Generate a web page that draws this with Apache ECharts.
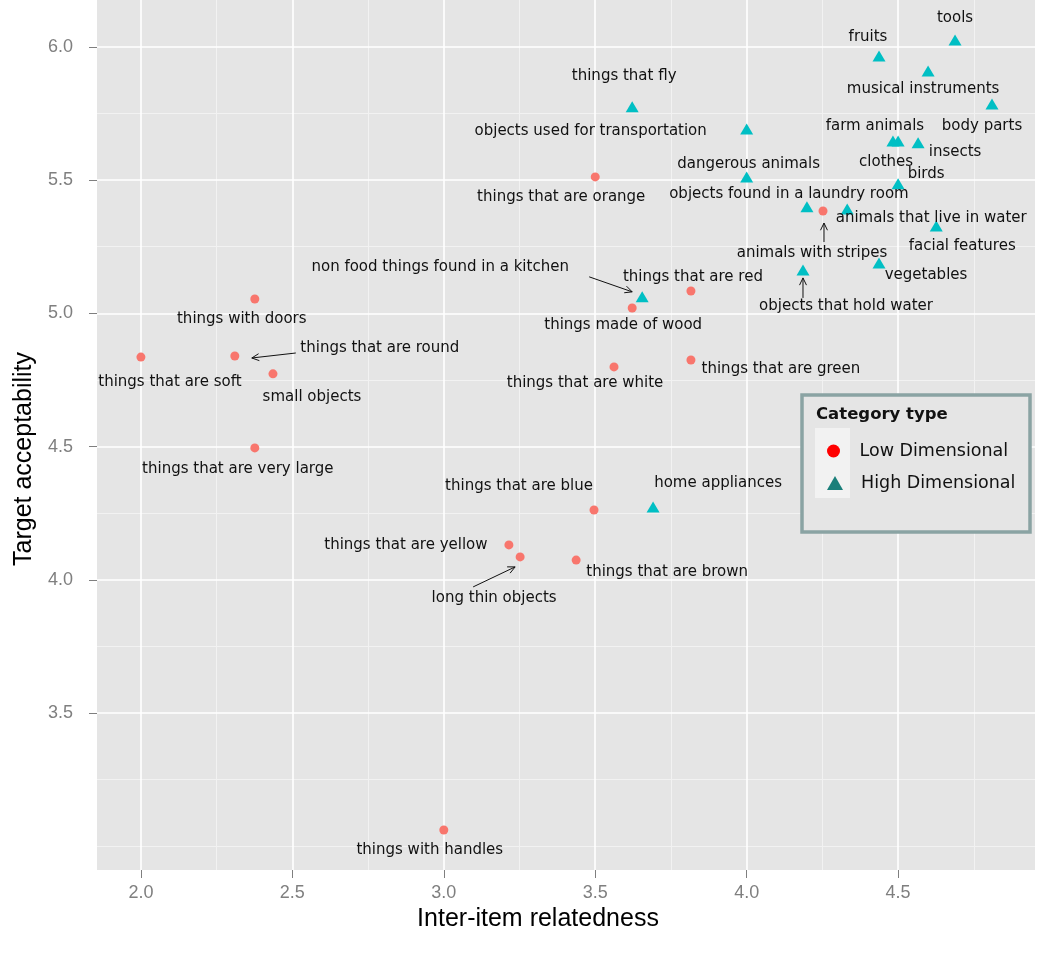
<!DOCTYPE html>
<html>
<head>
<meta charset="utf-8">
<script src="https://cdn.jsdelivr.net/npm/echarts@6/dist/echarts.min.js"></script>
<style>
html,body{margin:0;padding:0;background:#fff;}
#chart{width:1050px;height:953px;}
</style>
</head>
<body>
<div id="chart"></div>
<script>
// ---- data ----
const lowNames = ["things that are orange","things that are red","things made of wood","things that are white","things that are green","things with doors","things that are soft","things that are round","small objects","things that are very large","things that are blue","things that are yellow","long thin objects","things that are brown","things with handles","animals with stripes"];
const lowX = [3.50, 3.816, 3.622, 3.562, 3.816, 2.376, 2.00, 2.310, 2.436, 2.376, 3.496, 3.215, 3.252, 3.437, 3.00, 4.252];
const lowY = [5.512, 5.084, 5.020, 4.799, 4.825, 5.054, 4.836, 4.840, 4.773, 4.495, 4.262, 4.131, 4.086, 4.074, 3.061, 5.384];

const highNames = ["tools","fruits","musical instruments","body parts","things that fly","objects used for transportation","farm animals","clothes","insects","dangerous animals","birds","objects found in a laundry room","animals that live in water","facial features","vegetables","objects that hold water","non food things found in a kitchen","home appliances"];
const highX = [4.688, 4.437, 4.599, 4.810, 3.622, 4.00, 4.483, 4.500, 4.566, 4.00, 4.500, 4.199, 4.332, 4.626, 4.437, 4.186, 3.655, 3.691];
const highY = [6.026, 5.966, 5.910, 5.786, 5.775, 5.692, 5.647, 5.647, 5.640, 5.512, 5.486, 5.400, 5.392, 5.328, 5.189, 5.163, 5.062, 4.273];

const xTicks = [2.0, 2.5, 3.0, 3.5, 4.0, 4.5];
const yTicks = [3.5, 4.0, 4.5, 5.0, 5.5, 6.0];
const xMinor = [2.25, 2.75, 3.25, 3.75, 4.25, 4.75];
const yMinor = [3.0, 3.25, 3.75, 4.25, 4.75, 5.25, 5.75];

// ---- label layout (pixel offsets of label centre from its point) ----
const labelOffsets = {
  "tools":[0,-22], "fruits":[-11,-19], "musical instruments":[-5,18], "body parts":[-10,22],
  "things that fly":[-8,-31], "objects used for transportation":[-156,2], "farm animals":[-18,-15],
  "clothes":[-12,21], "insects":[37,9], "dangerous animals":[2,-13], "birds":[28,-10],
  "objects found in a laundry room":[-18,-13], "animals that live in water":[84,9],
  "facial features":[26,20], "vegetables":[47,12], "objects that hold water":[43,36],
  "non food things found in a kitchen":[-202,-30], "home appliances":[65,-24],
  "things that are orange":[-34,20], "things that are red":[2,-14], "things made of wood":[-9,17],
  "things that are white":[-29,16], "things that are green":[90,9], "things with doors":[-13,20],
  "things that are soft":[29,25], "things that are round":[145,-8], "small objects":[39,23],
  "things that are very large":[-17,21], "things that are blue":[-75,-24],
  "things that are yellow":[-103,0], "long thin objects":[-26,41], "things that are brown":[91,12],
  "things with handles":[-14,20], "animals with stripes":[-11,42]
};
// arrows: [series, name, start offset, end offset] in pixels relative to point
const arrows = [
  [1, "non food things found in a kitchen", [-53,-20], [-10,-5]],
  [0, "things that are round", [61,-3], [17,2]],
  [0, "long thin objects", [-47,30], [-5,10]],
  [0, "animals with stripes", [1,31], [1,12]],
  [1, "objects that hold water", [0,28], [0,8]]
];

const labelFont = {fontFamily:'DejaVu Sans', fontSize:15, color:'#111'};

function buildData(names, xs, ys){
  return names.map((n,i)=>({
    name:n, value:[xs[i], ys[i]],
    label:{show:true, position:'inside', offset:labelOffsets[n]||[0,0], formatter:n, ...labelFont}
  }));
}

const chart = echarts.init(document.getElementById('chart'), null, {renderer:'canvas'});

const gridLines = [];
xMinor.forEach(v=>gridLines.push({xAxis:v, lineStyle:{color:'#F2F2F2', width:1, type:'solid'}}));
yMinor.forEach(v=>gridLines.push({yAxis:v, lineStyle:{color:'#F2F2F2', width:1, type:'solid'}}));
xTicks.forEach(v=>gridLines.push({xAxis:v, lineStyle:{color:'#FFFFFF', width:1.6, type:'solid'}}));
yTicks.forEach(v=>gridLines.push({yAxis:v, lineStyle:{color:'#FFFFFF', width:1.6, type:'solid'}}));

const axisLabelStyle = {color:'#7F7F7F', fontSize:18, fontFamily:'Liberation Sans'};
const legendText = {fontFamily:'DejaVu Sans', fontSize:17.5, color:'#111', padding:[0,0,0,13]};

chart.setOption({
  animation:false,
  grid:{left:97, right:15, top:0, bottom:83, show:true, backgroundColor:'#E5E5E5', borderWidth:0},
  xAxis:{
    type:'value', min:1.855, max:4.952,
    axisLine:{show:false},
    axisTick:{show:true, length:8, customValues:xTicks, lineStyle:{color:'#7F7F7F', width:1}},
    axisLabel:{customValues:xTicks, formatter:v=>Number(v).toFixed(1), margin:14, ...axisLabelStyle},
    splitLine:{show:false},
    name:'Inter-item relatedness', nameLocation:'middle', nameGap:37,
    nameTextStyle:{color:'#000', fontSize:25, fontFamily:'Liberation Sans', padding:[0,56,0,0]}
  },
  yAxis:{
    type:'value', min:2.911, max:6.176,
    axisLine:{show:false},
    axisTick:{show:true, length:8, customValues:yTicks, lineStyle:{color:'#7F7F7F', width:1}},
    axisLabel:{customValues:yTicks, formatter:v=>Number(v).toFixed(1), margin:24, ...axisLabelStyle},
    splitLine:{show:false},
    name:'Target acceptability', nameLocation:'middle', nameGap:60,
    nameTextStyle:{color:'#000', fontSize:25, fontFamily:'Liberation Sans', padding:[0,48,0,0]}
  },
  legend:[
    {data:[{name:'Low Dimensional', icon:'circle', itemStyle:{color:'#FF0000'}}],
     left:822, top:437, itemWidth:16, itemHeight:13, selectedMode:false, z:20,
     textStyle:legendText},
    {data:[{name:'High Dimensional', icon:'triangle', itemStyle:{color:'#1A7F7A'}}],
     left:822, top:469, itemWidth:16, itemHeight:14, selectedMode:false, z:20,
     textStyle:legendText}
  ],
  series:[
    {name:'Low Dimensional', type:'scatter', symbol:'circle', symbolSize:9, z:5,
     itemStyle:{color:'#F8766D', opacity:1}, data:buildData(lowNames, lowX, lowY),
     emphasis:{disabled:true}},
    {name:'High Dimensional', type:'scatter', symbol:'triangle', symbolSize:[13,11], z:5,
     itemStyle:{color:'#00BFC4', opacity:1}, data:buildData(highNames, highX, highY),
     emphasis:{disabled:true}},
    {name:'gridlines', type:'scatter', data:[], z:1, silent:true,
     markLine:{silent:true, symbol:['none','none'], label:{show:false}, animation:false, data:gridLines}}
  ]
});

// arrows and legend box
const seriesData = [[lowNames, lowX, lowY],[highNames, highX, highY]];
const graphics = [
  {type:'rect', z:10, shape:{x:802, y:395, width:228, height:137},
   style:{fill:'#E5E5E5', stroke:'#8AA3A3', lineWidth:3.5}},
  {type:'rect', z:11, shape:{x:815, y:428, width:35, height:70}, style:{fill:'#F2F2F2'}},
  {type:'text', z:12, x:816, y:415, style:{text:'Category type', fontFamily:'DejaVu Sans', fontWeight:'bold', fontSize:16.5, fill:'#111', verticalAlign:'middle'}}
];
arrows.forEach(a=>{
  const [si, nm, s, e] = a;
  const d = seriesData[si];
  const idx = d[0].indexOf(nm);
  const p = chart.convertToPixel({seriesIndex:si}, [d[1][idx], d[2][idx]]);
  const x1 = p[0]+s[0], y1 = p[1]+s[1], x2 = p[0]+e[0], y2 = p[1]+e[1];
  const ang = Math.atan2(y2-y1, x2-x1);
  const L = 8, spread = 0.45;
  const h1 = [x2 - L*Math.cos(ang-spread), y2 - L*Math.sin(ang-spread)];
  const h2 = [x2 - L*Math.cos(ang+spread), y2 - L*Math.sin(ang+spread)];
  graphics.push({type:'line', z:6, shape:{x1:x1,y1:y1,x2:x2,y2:y2}, style:{stroke:'#111', lineWidth:1}});
  graphics.push({type:'polyline', z:6, shape:{points:[h1,[x2,y2],h2]}, style:{stroke:'#111', lineWidth:1, fill:null}});
});
chart.setOption({graphic:graphics});
</script>
</body>
</html>
